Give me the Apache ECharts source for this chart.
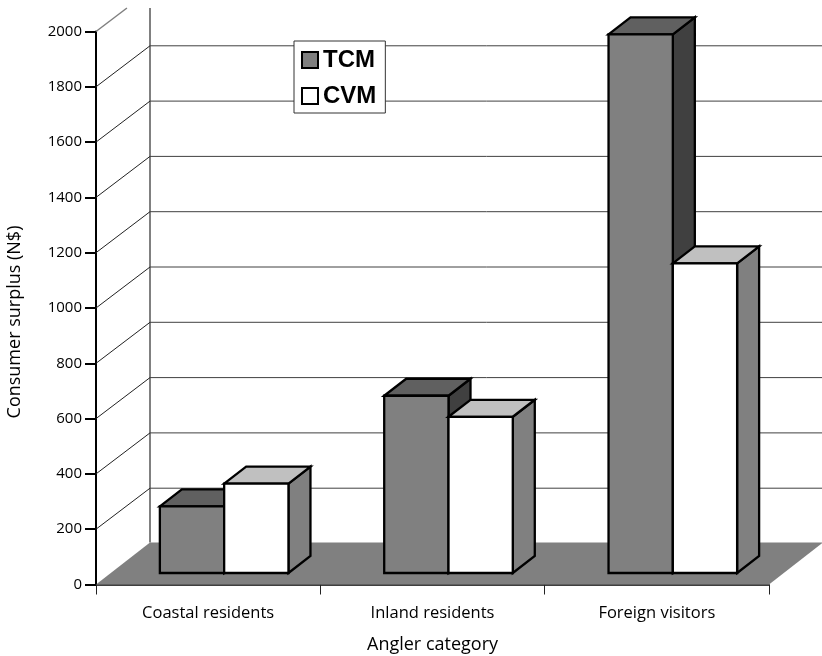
<!DOCTYPE html>
<html>
<head>
<meta charset="utf-8">
<style>
  html, body { margin: 0; padding: 0; background: #fff; }
  #chart { width: 822px; height: 656px; }
</style>
<script src="https://cdn.jsdelivr.net/npm/echarts@6/dist/echarts.min.js"></script>
</head>
<body>
<div id="chart"></div>
<script>
  const categories = ['Coastal residents', 'Inland residents', 'Foreign visitors']
  const tcmValues = [241, 641, 1948]
  const cvmValues = [323, 565, 1120]
  const yTicks = [0, 200, 400, 600, 800, 1000, 1200, 1400, 1600, 1800, 2000]

  const fontFamily = '"Open Sans", Lato, sans-serif'
  const wallDx = 54
  const wallDy = 41
  const topLimit = 8

  // walls and floor, one datum per y tick
  function renderWall(params, api) {
    const grid = params.coordSys
    const y = api.coord([0, api.value(0)])[1]
    const left = grid.x
    const children = []

    if (api.value(0) === 0) {
      const floorY = y - wallDy - 1
      children.push({
        type: 'polygon',
        shape: { points: [[left, y], [left + wallDx, floorY], [left + grid.width + wallDx, floorY], [left + grid.width, y]] },
        style: { fill: '#808080', stroke: null },
      })
      children.push({
        type: 'line',
        shape: { x1: left + wallDx, y1: topLimit, x2: left + wallDx, y2: floorY },
        style: { stroke: '#808080', lineWidth: 2 },
      })
      return { type: 'group', children }
    }

    const backY = y - wallDy
    const clipped = backY < topLimit
    const endY = clipped ? topLimit : backY
    const endX = left + (y - endY) * wallDx / wallDy
    children.push({
      type: 'line',
      shape: { x1: left, y1: y, x2: endX, y2: endY },
      style: { stroke: clipped ? '#808080' : '#222', lineWidth: clipped ? 1.5 : 1 },
    })
    if (!clipped) {
      children.push({
        type: 'line',
        shape: { x1: left + wallDx, y1: backY, x2: left + grid.width + wallDx, y2: backY },
        style: { stroke: '#404040', lineWidth: 1 },
      })
    }
    return { type: 'group', children }
  }

  // slot 0 is the left bar of a pair, slot 1 the right one
  function barRenderer(slot, frontColor, topColor, sideColor) {
    return function (params, api) {
      const band = api.size([1, 0])[0]
      const width = band * 0.2866
      const top = api.coord([api.value(0), api.value(1)])
      const base = api.coord([api.value(0), 0])
      const x0 = base[0] + band * 0.0713 - width + slot * width
      const x1 = x0 + width
      const y0 = top[1] - 11.5
      const y1 = base[1] - 11.5
      const dx = 22
      const dy = 17
      const line = { stroke: '#000', lineWidth: 2.3, lineJoin: 'miter' }
      return {
        type: 'group',
        children: [
          {
            type: 'polygon',
            shape: { points: [[x1, y1], [x1 + dx, y1 - dy], [x1 + dx, y0 - dy], [x1, y0]] },
            style: { fill: sideColor, ...line },
          },
          {
            type: 'polygon',
            shape: { points: [[x0, y0], [x0 + dx, y0 - dy], [x1 + dx, y0 - dy], [x1, y0]] },
            style: { fill: topColor, ...line },
          },
          {
            type: 'rect',
            shape: { x: x0, y: y0, width: width, height: y1 - y0 },
            style: { fill: frontColor, ...line },
          },
        ],
      }
    }
  }

  const chart = echarts.init(document.getElementById('chart'))
  chart.setOption({
    animation: false,
    backgroundColor: '#fff',
    grid: { left: 96, right: 53, top: 31.5, bottom: 71.5, outerBoundsMode: 'none' },
    legend: {
      left: 294,
      top: 41,
      orient: 'vertical',
      backgroundColor: '#fff',
      borderColor: '#333',
      borderWidth: 1,
      borderRadius: 0,
      padding: [7, 9, 5, 7],
      itemWidth: 16,
      itemHeight: 16,
      itemGap: 12,
      icon: 'rect',
      textStyle: {
        fontFamily: '"Liberation Sans", Arial, sans-serif',
        fontWeight: 'bold',
        fontSize: 24,
        color: '#000',
        lineHeight: 20,
      },
      data: [
        { name: 'TCM', itemStyle: { color: '#808080', borderColor: '#000', borderWidth: 2 } },
        { name: 'CVM', itemStyle: { color: '#fff', borderColor: '#000', borderWidth: 2 } },
      ],
    },
    xAxis: {
      type: 'category',
      data: categories,
      name: 'Angler category',
      nameLocation: 'middle',
      nameGap: 51,
      nameTextStyle: { fontFamily, fontSize: 18, color: '#000' },
      axisLine: { lineStyle: { color: '#000', width: 1.5 } },
      axisTick: { show: true, length: 10, lineStyle: { color: '#222', width: 1 } },
      axisLabel: { fontFamily, fontSize: 16.5, color: '#000', margin: 20 },
    },
    yAxis: {
      type: 'value',
      min: 0,
      max: 2000,
      interval: 200,
      name: 'Consumer surplus (N$)',
      nameLocation: 'middle',
      nameGap: 72,
      nameTextStyle: { fontFamily, fontSize: 18, color: '#000', padding: [0, 28, 0, 0] },
      axisLine: { show: true, lineStyle: { color: '#000', width: 2 } },
      axisTick: { show: true, length: 11, lineStyle: { color: '#000', width: 2 } },
      axisLabel: { fontFamily, fontSize: 15, color: '#000', margin: 14, formatter: (v) => String(v) },
      splitLine: { show: false },
    },
    series: [
      {
        type: 'custom',
        name: 'walls',
        coordinateSystem: 'cartesian2d',
        renderItem: renderWall,
        data: yTicks.map((t) => [t]),
        encode: { y: 0 },
        silent: true,
        z: 1,
      },
      {
        type: 'custom',
        name: 'TCM',
        coordinateSystem: 'cartesian2d',
        renderItem: barRenderer(0, '#808080', '#606060', '#404040'),
        data: tcmValues.map((v, i) => [i, v]),
        encode: { x: 0, y: 1 },
        z: 2,
      },
      {
        type: 'custom',
        name: 'CVM',
        coordinateSystem: 'cartesian2d',
        renderItem: barRenderer(1, '#fff', '#c0c0c0', '#808080'),
        data: cvmValues.map((v, i) => [i, v]),
        encode: { x: 0, y: 1 },
        z: 3,
      },
    ],
  })
</script>
</body>
</html>
